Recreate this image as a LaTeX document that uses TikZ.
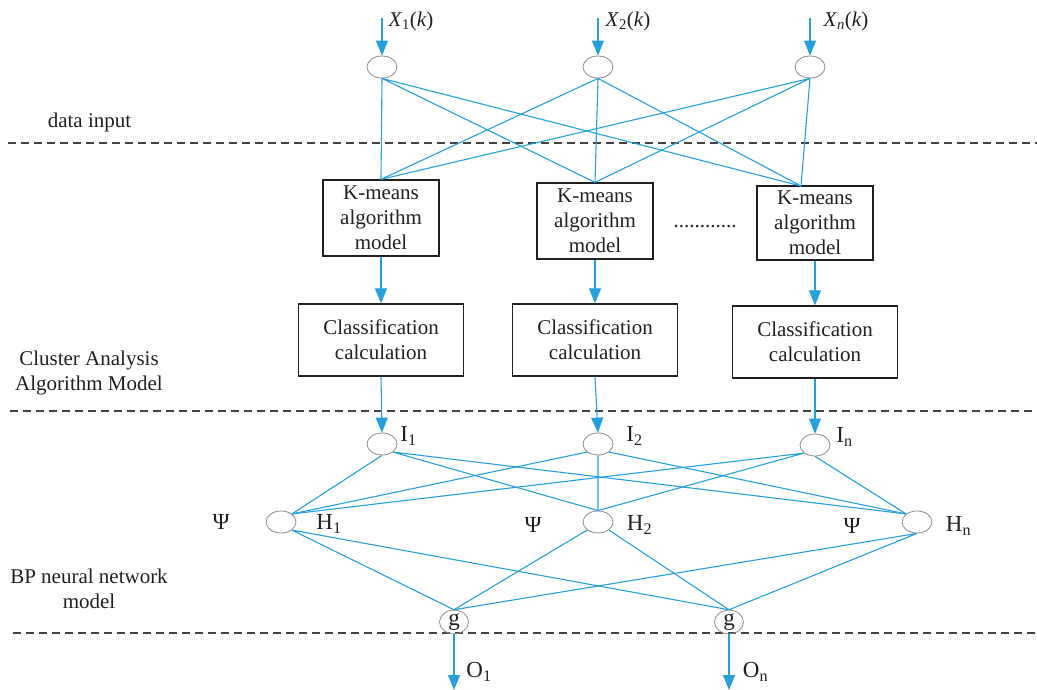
\documentclass[tikz,border=0pt]{standalone}
\usepackage{fontspec}
\setmainfont{Liberation Serif}
\usetikzlibrary{arrows.meta,shapes.geometric}

\definecolor{netblue}{RGB}{38,160,220}
\definecolor{ink}{RGB}{35,31,32}
\newcommand{\txtsize}{\fontsize{21}{25}\selectfont}
\newcommand{\labsize}{\fontsize{23}{25}\selectfont}

\begin{document}
\begin{tikzpicture}[x=1pt, y=-1pt,
    txt/.style={text=ink, font=\txtsize, align=center, inner sep=0pt},
    lab/.style={text=ink, font=\labsize, inner sep=0pt},
    neuron/.style={ellipse, draw=black!45, line width=0.8pt, minimum width=30pt, minimum height=22pt, inner sep=0pt, text=ink, font=\labsize},
    kmbox/.style={draw=ink, line width=1.3pt, minimum width=116pt, minimum height=76pt, inner sep=0pt, align=center, text=ink, font=\txtsize},
    clbox/.style={draw=ink, line width=1.3pt, minimum width=165pt, minimum height=72pt, inner sep=0pt, align=center, text=ink, font=\txtsize},
    link/.style={draw=netblue, line width=1.1pt},
    feed/.style={link, -{Triangle[width=12pt,length=15pt]}},
    sep/.style={draw=ink!85, line width=1.4pt, dash pattern=on 8pt off 5pt}]

    \useasboundingbox (0,0) rectangle (1037,690);

    \draw[sep] (8,143) -- (1037,143);
    \draw[sep] (10,411) -- (1037,411);
    \draw[sep] (13,633) -- (1037,633);

    \node[txt] (lbdata) at (89.5,122) {data input};
    \node[txt] (lbcluster) at (89,373) {Cluster Analysis\\Algorithm Model};
    \node[txt] (lbbp) at (89,589) {BP neural network\\model};

    \coordinate (x1) at (382,18);
    \coordinate (x2) at (598,18);
    \coordinate (xn) at (810,18);
    \node[txt] (lx1) at (411,21) {\textit{X}\textsubscript{1}(\textit{k})};
    \node[txt] (lx2) at (628,21) {\textit{X}\textsubscript{2}(\textit{k})};
    \node[txt] (lxn) at (846,21) {\textit{X}\textsubscript{\textit{n}}(\textit{k})};

    \node[neuron] (in1) at (382,67) {};
    \node[neuron] (in2) at (598,67) {};
    \node[neuron] (inn) at (810,67) {};

    \node[kmbox] (km1) at (381,218) {K-means\\algorithm\\model};
    \node[kmbox] (km2) at (595,221) {K-means\\algorithm\\model};
    \node[kmbox, minimum height=74pt] (kmn) at (815,223) {K-means\\algorithm\\model};
    \coordinate (kmnin) at (801,186);
    \node[txt, anchor=base] (dots) at (705,227) {............};

    \node[clbox] (cl1) at (381,340) {Classification\\calculation};
    \node[clbox] (cl2) at (595,340) {Classification\\calculation};
    \node[clbox] (cln) at (815,342) {Classification\\calculation};

    \node[neuron] (i1) at (382,444) {};
    \node[neuron] (i2) at (598,444) {};
    \node[neuron] (in) at (815,445) {};
    \node[lab] (li1) at (408.5,436) {I\textsubscript{1}};
    \node[lab] (li2) at (634.5,436) {I\textsubscript{2}};
    \node[lab] (lin) at (844.5,437) {I\textsubscript{n}};

    \node[neuron] (h1) at (281,522) {};
    \node[neuron] (h2) at (598,522) {};
    \node[neuron] (hn) at (917,522) {};
    \node[lab] (lh1) at (329,524) {H\textsubscript{1}};
    \node[lab] (lh2) at (639.5,525) {H\textsubscript{2}};
    \node[lab] (lhn) at (958.5,526) {H\textsubscript{n}};
    \node[lab] (psi1) at (221,522) {Ψ};
    \node[lab] (psi2) at (533,525) {Ψ};
    \node[lab] (psin) at (852,526) {Ψ};

    \node[neuron, minimum width=29pt] (g1) at (454,622) {g};
    \node[neuron, minimum width=29pt] (g2) at (729,622) {g};
    \coordinate (o1end) at (454,690);
    \coordinate (onend) at (729,690);
    \node[lab] (lo1) at (479,672) {O\textsubscript{1}};
    \node[lab] (lon) at (755.5,672) {O\textsubscript{n}};

    \draw[feed] (x1) -- (in1.north);
    \draw[feed] (x2) -- (in2.north);
    \draw[feed] (xn) -- (inn.north);

    \draw[link] (in1.south) -- (km1.north) (in1.south) -- (km2.north) (in1.south) -- (kmnin);
    \draw[link] (in2.south) -- (km1.north) (in2.south) -- (km2.north) (in2.south) -- (kmnin);
    \draw[link] (inn.south) -- (km1.north) (inn.south) -- (km2.north) (inn.south) -- (kmnin);

    \draw[feed] (km1.south) -- (cl1.north);
    \draw[feed] (km2.south) -- (cl2.north);
    \draw[feed] (kmn.south) -- (cln.north);

    \draw[feed] (cl1.south) -- (i1.north);
    \draw[feed] (cl2.south) -- (i2.north);
    \draw[feed] (cln.south) -- (in.north);

    \draw[link] (i1.south) -- (h1.north east) (i1.south east) -- (h2.north) (i1.south east) -- (hn.north west);
    \draw[link] (i2.south west) -- (h1.north east) (i2.south) -- (h2.north) (i2.south east) -- (hn.north west);
    \draw[link] (in.south west) -- (h1.north east) (in.south west) -- (h2.north) (in.south) -- (hn.north west);

    \draw[link] (h1.south east) -- (g1.north) (h1.south east) -- (g2.north);
    \draw[link] (h2.south west) -- (g1.north) (h2.south east) -- (g2.north);
    \draw[link] (hn.south) -- (g1.north) (hn.south) -- (g2.north);

    \draw[feed] (g1.south) -- (o1end);
    \draw[feed] (g2.south) -- (onend);

\end{tikzpicture}
\end{document}
